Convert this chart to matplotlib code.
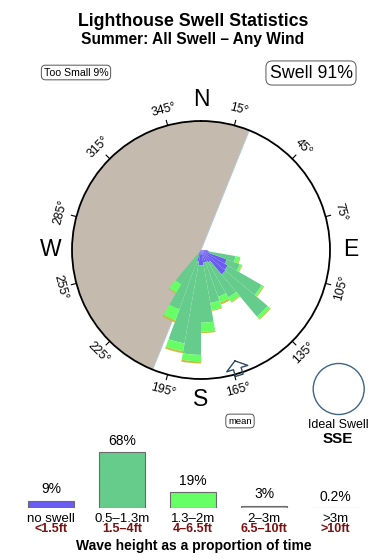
import numpy as np
import matplotlib
matplotlib.use("Agg")
import matplotlib.pyplot as plt
from matplotlib.patches import Ellipse

plt.rcParams['font.family'] = ['Liberation Sans', 'DejaVu Sans']

# ---------------- data ----------------
title = "Lighthouse Swell Statistics"
subtitle = "Summer: All Swell \u2013 Any Wind"
too_small_pct = 9
swell_pct = 91
ideal_dir = "SSE"
mean_dir = 163          # degrees (mean swell direction)
blocked_from = 202      # shaded (sheltered) sector start, degrees
blocked_to = 22         # shaded sector end, degrees

# direction bins (centres, 10 degree width)
directions = [95, 105, 115, 125, 135, 145, 155, 165, 175, 185, 195, 205, 215]
# percent of time per direction bin, per wave-height class
no_swell = [0.05, 0.10, 1.10, 1.40, 1.50, 0.30, 0.25, 0.25, 0.35, 0.35, 0.20, 0.03, 0.00]
h_05_13  = [0.02, 1.70, 1.40, 5.80, 9.60, 4.10, 3.40, 4.00, 7.40, 15.8, 13.0, 5.80, 2.30]
h_13_2   = [0.00, 0.45, 0.25, 0.40, 0.80, 0.85, 0.95, 1.20, 2.05, 2.05, 2.30, 2.40, 1.30]
h_2_3    = [0.00, 0.10, 0.10, 0.20, 0.25, 0.18, 0.34, 0.18, 0.36, 0.65, 0.60, 0.45, 0.15]
h_3plus  = [0.00, 0.00, 0.00, 0.00, 0.00, 0.00, 0.00, 0.00, 0.00, 0.05, 0.05, 0.05, 0.05]

classes_m  = ["no swell", "0.5\u20131.3m", "1.3\u20132m", "2\u20133m", ">3m"]
classes_ft = ["<1.5ft", "1.5\u20134ft", "4\u20136.5ft", "6.5\u201310ft", ">10ft"]
class_pct  = [9, 68, 19, 3, 0.2]
class_pct_labels = ["9%", "68%", "19%", "3%", "0.2%"]
colors = ["#6a5cf2", "#66cc8c", "#66ff66", "#c2c23a", "#c4aca4"]

deg_ticks = [15, 45, 75, 105, 135, 165, 195, 225, 255, 285, 315, 345]
compass = {"N": 0, "E": 90, "S": 180, "W": 270}

# ---------------- figure ----------------
W, H = 390, 560
fig = plt.figure(figsize=(W / 100, H / 100), dpi=100)
fig.patch.set_facecolor("white")

cx, cy, R = 201, 250, 129          # rose centre / radius in pixels
K = 26.1                           # pixels per sqrt(percent)
RMAX = R / K

ax = fig.add_axes([(cx - R) / W, 1 - (cy + R) / H, 2 * R / W, 2 * R / H],
                  projection="polar")
ax.set_theta_zero_location("N")
ax.set_theta_direction(-1)
ax.set_ylim(0, RMAX)
ax.grid(False)
ax.set_xticks([])
ax.set_yticks([])
ax.spines["polar"].set_linewidth(1.3)
ax.spines["polar"].set_zorder(6)

# sheltered half
span = (blocked_to - blocked_from) % 360
mid = blocked_from + span / 2
ax.bar(np.radians(mid), RMAX, width=np.radians(span), bottom=0,
       color="#c5baae", linewidth=0, zorder=1)
ax.plot([np.radians(blocked_to)] * 2, [0, RMAX], color="#a9c9e6", lw=0.6, zorder=1.5)
ax.plot([np.radians(blocked_from)] * 2, [0, RMAX], color="#a9c9e6", lw=0.6, zorder=1.5)

# stacked rose (area-proportional radii)
theta = np.radians(directions)
layers = [no_swell, h_05_13, h_13_2, h_2_3, h_3plus]
cum = np.zeros(len(directions))
for vals, col in zip(layers, colors):
    new = cum + np.array(vals)
    r0 = np.sqrt(cum)
    r1 = np.sqrt(new)
    ax.bar(theta, r1 - r0, bottom=r0, width=np.radians(10), color=col,
           linewidth=0, zorder=3, align="center")
    cum = new

# degree ticks and labels
for d in deg_ticks:
    t = np.radians(d)
    ax.plot([t, t], [RMAX, RMAX * 1.04], color="black", lw=0.8,
            clip_on=False, zorder=6)
    rot = -d if (d < 90 or d > 270) else 180 - d
    ax.text(t, 145 / K, f"{d}\u00b0", rotation=rot, ha="center", va="center",
            fontsize=8.8, rotation_mode="anchor", clip_on=False)

for lab, d in compass.items():
    ax.text(np.radians(d), 150 / K, lab, ha="center", va="center",
            fontsize=16.5, clip_on=False)

# mean direction arrow (outline)
m = np.radians(mean_dir)
shape = [(116, 0), (124, -11), (124, -4), (131, -4), (131, 4), (124, 4), (124, 11), (116, 0)]
pth, pr = [], []
for a, b in shape:
    pth.append(m + np.arctan2(b, a))
    pr.append(np.hypot(a, b) / K)
ax.plot(pth, pr, color="#2e4a5e", lw=1.0, clip_on=False, zorder=7)

# ---------------- titles / boxes ----------------
fig.text(193 / W, 1 - 21 / H, title, ha="center", va="center",
         fontsize=12.8, fontweight="bold")
fig.text(193 / W, 1 - 39.5 / H, subtitle, ha="center", va="center",
         fontsize=11.2, fontweight="bold")
fig.text(76 / W, 1 - 72.5 / H, f"Too Small {too_small_pct}%", ha="center", va="center",
         fontsize=7.6, bbox=dict(boxstyle="round,pad=0.22,rounding_size=0.4",
                                 fc="white", ec="#555555", lw=0.7))
fig.text(311 / W, 1 - 73 / H, f"Swell {swell_pct}%", ha="center", va="center",
         fontsize=12.8, bbox=dict(boxstyle="round,pad=0.2,rounding_size=0.35",
                                  fc="white", ec="#555555", lw=0.7))
fig.text(240 / W, 1 - 421 / H, "mean", ha="center", va="center",
         fontsize=6.8, bbox=dict(boxstyle="round,pad=0.25,rounding_size=0.4",
                                 fc="white", ec="#555555", lw=0.7))

# ideal swell circle
fig.patches.append(Ellipse((338.7 / W, 1 - 389 / H), 51 / W, 51 / H,
                           transform=fig.transFigure, fill=False,
                           ec="#3f6486", lw=1.0))
fig.text(338 / W, 1 - 425 / H, "Ideal Swell", ha="center", va="center", fontsize=9)
fig.text(338 / W, 1 - 439 / H, ideal_dir, ha="center", va="center",
         fontsize=11, fontweight="bold")

# ---------------- height legend bars ----------------
PXPP = 0.82   # pixels per percent
base_px = 508
lax_h = 80
lax = fig.add_axes([0, (H - base_px) / H, 1, lax_h / H])
lax.set_xlim(-51 / 71, (W - 51) / 71)
lax.set_ylim(0, lax_h / PXPP)
lax.axis("off")
xs = np.arange(len(class_pct))
lax.bar(xs, class_pct, width=45.5 / 71, color=colors, edgecolor="#6a6a6a",
        linewidth=0.8, align="center", zorder=2)
for x, p, lab in zip(xs, class_pct, class_pct_labels):
    lax.annotate(lab, (x, p), xytext=(0, 3), textcoords="offset points",
                 ha="center", va="bottom", fontsize=10)
for x, lm, lf in zip(xs, classes_m, classes_ft):
    fig.text((51 + 71 * x) / W, 1 - 519 / H, lm, ha="center", va="center", fontsize=9.5)
    fig.text((51 + 71 * x) / W, 1 - 529.5 / H, lf, ha="center", va="center",
             fontsize=9, fontweight="bold", color="#7a1010")
fig.text(194 / W, 1 - 546 / H, "Wave height as a proportion of time", ha="center",
         va="center", fontsize=10, fontweight="bold")

fig.savefig("out.png", dpi=100, facecolor="white")
